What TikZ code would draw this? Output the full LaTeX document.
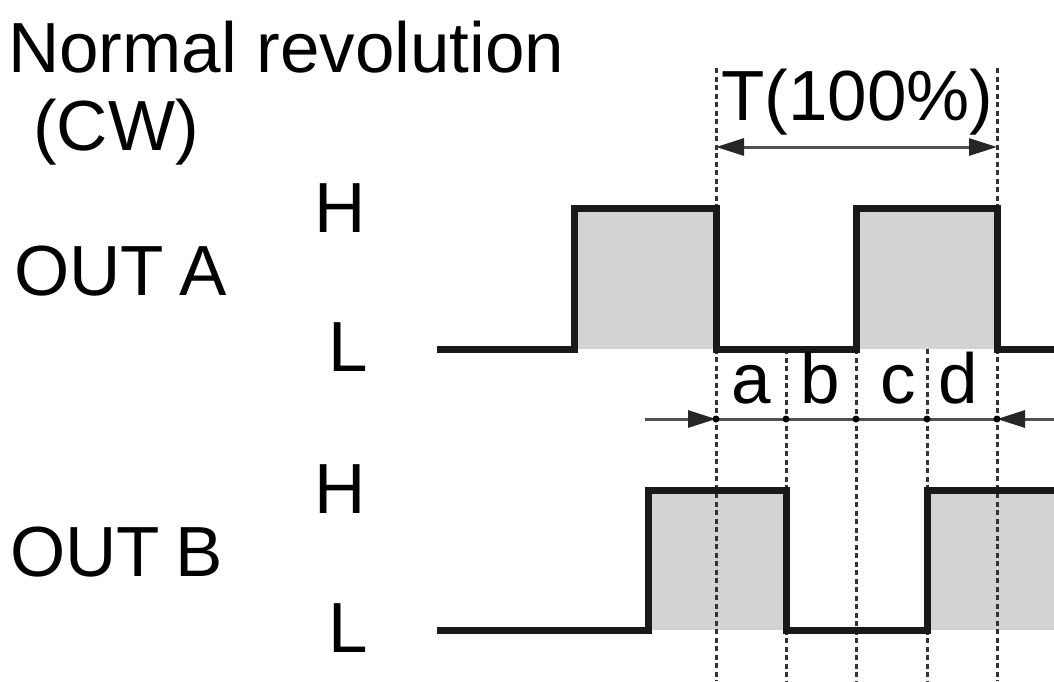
\documentclass[tikz,border=0pt]{standalone}
\usepackage{fontspec}
\setmainfont{Liberation Sans}
\usepackage{xcolor}
\usepackage{tikz}
\usetikzlibrary{positioning}
\usetikzlibrary{arrows.meta}

\definecolor{pulsegray}{RGB}{210,211,213}
\definecolor{dimgray}{RGB}{80,80,80}

\begin{document}
\begin{tikzpicture}[x=1pt,y=-1pt,>={Triangle[length=28pt,width=17pt,color=black!85]},
  txt/.style={inner sep=0pt,anchor=base west,font=\fontsize{71}{80}\selectfont},
  sig/.style={line width=7pt,line join=miter,draw=black!90},
  pulse/.style={fill=pulsegray},
  guide/.style={line width=3pt,draw=black!80,dash pattern=on 5pt off 3.5pt},
  dim/.style={line width=3pt,draw=dimgray}]
  \useasboundingbox (0,0) rectangle (1054,681);

  % shaded high phases
  \fill[pulse] (574,208) rectangle (716,349);
  \fill[pulse] (856,208) rectangle (997,349);
  \fill[pulse] (648,490) rectangle (786,630);
  \fill[pulse] (927,490) rectangle (1054,630);

  % phase edges
  \coordinate (d0) at (716,419);
  \coordinate (d1) at (786,419);
  \coordinate (d2) at (856,419);
  \coordinate (d3) at (927,419);
  \coordinate (d4) at (997,419);
  \draw[guide] (d0 |- 0,68) -- (d0 |- 0,681);
  \draw[guide] (d4 |- 0,68) -- (d4 |- 0,681);
  \foreach \i in {1,2,3}
    \draw[guide] (d\i |- 0,349) -- (d\i |- 0,681);

  % Draw signals
  \draw[sig] (437,349) -- (574,349) -- (574,208) -- (716,208) -- (716,349)
    -- (856,349) -- (856,208) -- (997,208) -- (997,349) -- (1054,349);
  \draw[sig] (437,630) -- (648,630) -- (648,490) -- (786,490) -- (786,630)
    -- (927,630) -- (927,490) -- (1054,490);

  % period T
  \coordinate (tL) at (716,147);
  \coordinate (tR) at (997,147);
  \draw[dim,<->] (tL) -- (tR);
  \node[txt] (period) at (721,120) {T(100\%)};

  % phase difference
  \coordinate (dIn) at (645,419);
  \coordinate (dOut) at (1054,419);
  \draw[dim,->] (dIn) -- (d0);
  \draw[dim] (d0) -- (d4);
  \draw[dim,->] (dOut) -- (d4);
  \foreach \i in {0,...,4}
    \fill (d\i) circle (3.5pt);
  \node[txt,anchor=base] (sa) at (751,403) {a};
  \node[txt,anchor=base] (sb) at (820,403) {b};
  \node[txt,anchor=base] (sc) at (898,403) {c};
  \node[txt,anchor=base] (sd) at (958,403) {d};

  % labels
  \node[txt] (title) at (8,72) {Normal revolution};
  \node[txt] (cw) at (33,150) {(CW)};
  \node[txt] (outA) at (14,295) {OUT\hspace{-4pt} A};
  \node[txt] (outB) at (10,576) {OUT\hspace{-4pt} B};
  \node[txt] (hA) at (314,232) {H};
  \node[txt,below right=90pt and 14pt of hA.south west] (lA) {L};
  \node[txt] (hB) at (314,513) {H};
  \node[txt,below right=90pt and 14pt of hB.south west] (lB) {L};
\end{tikzpicture}
\end{document}
